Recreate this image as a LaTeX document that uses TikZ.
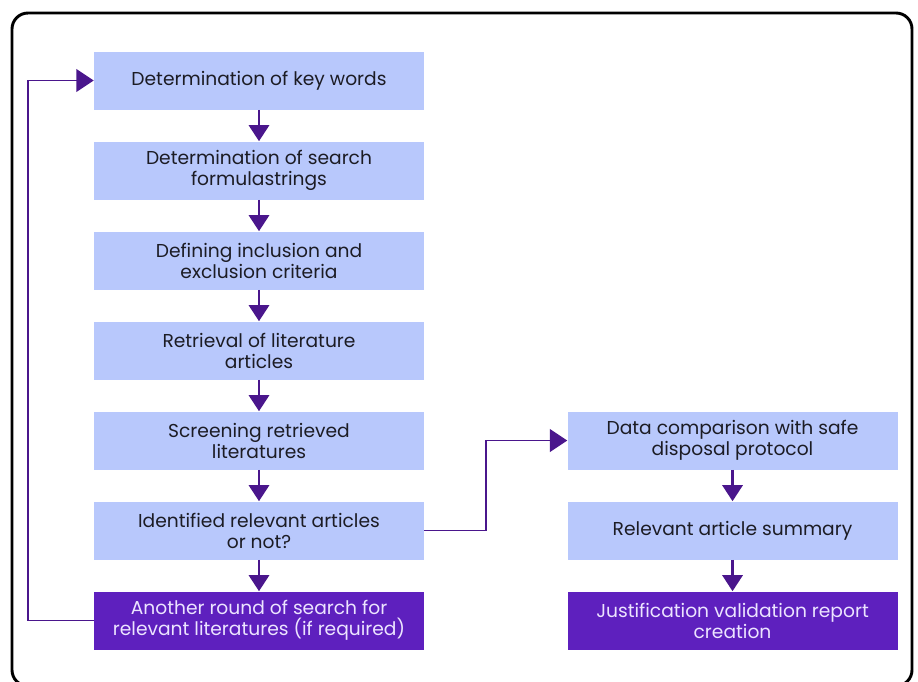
\documentclass[tikz,border=0pt]{standalone}
\usepackage{fontspec}
\setmainfont{Poppins}
\usetikzlibrary{positioning,arrows.meta}

\definecolor{boxblue}{RGB}{184,200,252}
\definecolor{boxpurple}{RGB}{94,32,190}
\definecolor{arrowpurple}{RGB}{74,22,140}
\definecolor{lighttext}{RGB}{236,228,255}
\definecolor{darktext}{RGB}{28,28,36}

\tikzset{
  stepbox/.style={fill=boxblue, text=darktext, minimum width=247.5pt,
    minimum height=43.5pt, inner sep=0pt, align=center,
    font=\fontsize{14}{15.75}\selectfont},
  endbox/.style={stepbox, fill=boxpurple, text=lighttext},
  flow/.style={arrowpurple, line width=2.2pt,
    -{Triangle[length=12pt,width=15pt]}},
  backflow/.style={arrowpurple, line width=1.3pt,
    -{Triangle[length=13pt,width=17pt]}}
}

\begin{document}
\begin{tikzpicture}[x=0.75pt, y=-0.75pt, node distance=23.6pt and 107.25pt]
  \useasboundingbox (0,0) rectangle (918,682);
  \draw[line width=2.2pt, rounded corners=12pt] (12,13) rectangle (912,686);

  % left column
  \node[stepbox] (keys) at (259,80.5) {Determination of key words};
  \node[stepbox, below=of keys] (formula) {Determination of search\\formulastrings};
  \node[stepbox, below=of formula] (criteria) {Defining inclusion and\\exclusion criteria};
  \node[stepbox, below=of criteria] (retrieval) {Retrieval of literature\\articles};
  \node[stepbox, below=of retrieval] (screening) {Screening retrieved\\literatures};
  \node[stepbox, below=of screening] (relevant) {Identified relevant articles\\or not?};
  \node[endbox, below=of relevant] (another) {Another round of search for\\relevant literatures (if required)};

  % right column
  \node[stepbox, right=of screening] (compare) {Data comparison with safe\\disposal protocol};
  \node[stepbox, below=of compare] (summary) {Relevant article summary};
  \node[endbox, below=of summary] (report) {Justification validation report\\creation};

  \foreach \a/\b in {keys/formula, formula/criteria, criteria/retrieval,
    retrieval/screening, screening/relevant, relevant/another,
    compare/summary, summary/report}
    \draw[flow] (\a) -- (\b);

  \draw[backflow] (another.west) -- ++(-66,0) |- (keys.west);
  \draw[backflow] (relevant.east) -- ++(62,0) |- (compare.west);
\end{tikzpicture}
\end{document}
